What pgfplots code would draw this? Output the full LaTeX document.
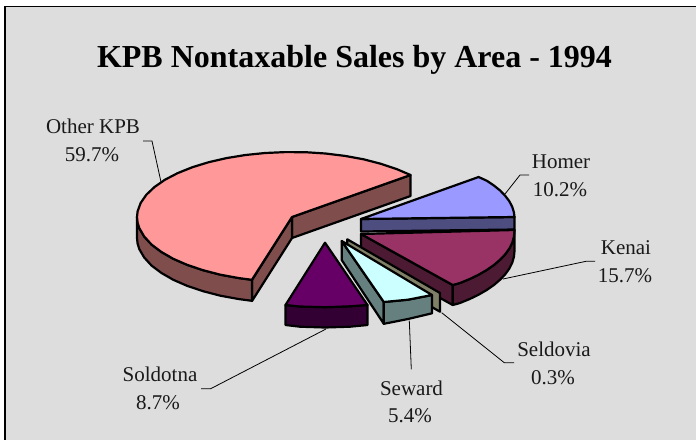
\documentclass[border=0pt]{standalone}
\usepackage{fontspec}
\setmainfont{Liberation Serif}
\usepackage{pgfplots}
\pgfplotsset{compat=1.18}

\definecolor{bg}{HTML}{DDDDDD}
\definecolor{otherT}{HTML}{FF9999}
\definecolor{otherS}{HTML}{804D4D}
\definecolor{homerT}{HTML}{9999FF}
\definecolor{homerS}{HTML}{4D4D80}
\definecolor{kenaiT}{HTML}{993366}
\definecolor{kenaiS}{HTML}{4D1A33}
\definecolor{seldS}{HTML}{808066}
\definecolor{sewT}{HTML}{CCFFFF}
\definecolor{sewS}{HTML}{668080}
\definecolor{soldT}{HTML}{660066}
\definecolor{soldS}{HTML}{330033}

\pgfplotsset{
  slice/.style={fill=#1, draw=black, line width=2.2pt, line join=round},
  leader/.style={draw=black, line width=0.8pt},
}
\tikzset{lab/.style={anchor=base, font=\fontsize{21}{21}\selectfont, inner sep=0pt, text=black!90}}

\begin{document}
\begin{tikzpicture}
\begin{axis}[
  width=696pt, height=440pt, scale only axis,
  xmin=0, xmax=696, ymin=0, ymax=440,
  y dir=reverse,
  hide axis,
  no markers,
]
% page and chart area
\addplot[fill=white, draw=none] coordinates {(0,0) (696,0) (696,440) (0,440)} -- cycle;
\addplot[fill=bg, draw=none] coordinates {(5,6.5) (696,6.5) (696,440) (5,440)} -- cycle;
\addplot[draw=black, line width=1.6pt] coordinates {(5,440) (5,6.5) (696,6.5)};

% leader lines
\addplot[leader] coordinates {(143,141) (152,141) (161,182)};
\addplot[leader] coordinates {(529,175) (520,175) (505,194)};
\addplot[leader] coordinates {(595,261.3) (586,261.3) (503,279)};
\addplot[leader] coordinates {(514,362.7) (504.3,362.7) (441.7,312.7)};
\addplot[leader] coordinates {(411.3,369.3) (409.3,320.7)};
\addplot[leader] coordinates {(201,388.7) (210.7,388.7) (326,329)};

% Other KPB
\addplot[slice=otherS] coordinates {(292,217) (410.5,175) (410.5,196) (292,238)} -- cycle;
\addplot[slice=otherS] coordinates {(292,217) (252,280) (252,301) (292,238)} -- cycle;
\addplot[slice=otherS] coordinates {
  (137,217) (137.6,222.7) (139.4,228.3) (144.2,236.5) (151.5,244.5) (161.3,251.9) (173.3,258.8)
  (187.3,264.9) (203.1,270.2) (220.4,274.7) (239,278.1) (251.9,279.8)
  (251.9,300.8) (239,299.1) (220.4,295.7) (203.1,291.2) (187.3,285.9) (173.3,279.8)
  (161.3,272.9) (151.5,265.5) (144.2,257.5) (139.4,249.3) (137.6,243.7) (137,238)} -- cycle;
\addplot[slice=otherT] coordinates {
  (292,217) (410.5,175) (396.7,169.1) (380.9,163.8) (363.6,159.3) (345,155.9) (325.5,153.5)
  (305.5,152.2) (285.2,152.1) (265.1,153) (245.4,155) (226.5,158.1) (208.7,162.2) (192.4,167.2)
  (177.7,173.1) (165,179.7) (154.5,187) (146.3,194.8) (140.7,202.9) (137.6,211.3) (137,217)
  (137.6,222.7) (139.4,228.3) (144.2,236.5) (151.5,244.5) (161.3,251.9) (173.3,258.8)
  (187.3,264.9) (203.1,270.2) (220.4,274.7) (239,278.1) (251.9,279.8)} -- cycle;

% Homer
\addplot[slice=homerS] coordinates {(361,219) (514.5,217) (514.5,229.5) (361,231.5)} -- cycle;
\addplot[slice=homerT] coordinates {
  (361,219) (478.6,177) (486.7,180.7) (493.9,185.5) (500.1,190.5) (505.2,195.8) (509.3,201.2)
  (512.2,206.7) (513.9,212.3) (514.5,217)} -- cycle;

% Kenai
\addplot[slice=kenaiS] coordinates {(361,234) (452.7,285) (452.7,305) (361,254)} -- cycle;
\addplot[slice=kenaiS] coordinates {
  (514.5,230) (513.9,236.9) (512.2,242.8) (509.3,248.6) (505.2,254.3) (500.1,259.7) (493.9,265)
  (486.7,270) (478.6,274.7) (469.5,279.1) (459.7,283.1) (452.7,285)
  (452.7,305) (459.7,303.1) (469.5,299.1) (478.6,294.7) (486.7,290) (493.9,285) (500.1,279.7)
  (505.2,274.3) (509.3,268.6) (512.2,262.8) (513.9,256.9) (514.5,251)} -- cycle;
\addplot[slice=kenaiT] coordinates {
  (361,234) (514.5,230) (513.9,236.9) (512.2,242.8) (509.3,248.6) (505.2,254.3) (500.1,259.7)
  (493.9,265) (486.7,270) (478.6,274.7) (469.5,279.1) (459.7,283.1) (452.7,285)} -- cycle;

% Seldovia
\addplot[slice=seldS] coordinates {(347.3,239.3) (440,293) (440,311.7) (347.3,259)} -- cycle;

% Seward
\addplot[slice=sewS] coordinates {(341.7,241) (383.8,302) (383.8,323.8) (341.7,260)} -- cycle;
\addplot[slice=sewS] coordinates {
  (383.8,302) (408,299.7) (432,295) (432,313.3) (408,319) (383.8,323.8)} -- cycle;
\addplot[slice=sewT] coordinates {(341.7,241) (432,295) (408,299.7) (383.8,302)} -- cycle;

% Soldotna
\addplot[slice=soldS] coordinates {
  (285.5,305) (300,306.5) (325,307.2) (350,306.3) (367.5,305)
  (367.5,325) (350,326.7) (325,327.5) (300,326.7) (285.5,325)} -- cycle;
\addplot[slice=soldT] coordinates {
  (325,242.7) (367.5,305) (350,306.3) (325,307.2) (300,306.5) (285.5,305)} -- cycle;

% text
\node[anchor=base, font=\fontsize{32}{32}\selectfont\bfseries, inner sep=0pt] at (axis cs:354.5,67) {KPB Nontaxable Sales by Area - 1994};
\node[lab] at (axis cs:93,133) {Other KPB};
\node[lab] at (axis cs:92,161) {59.7\%};
\node[lab] at (axis cs:561,168) {Homer};
\node[lab] at (axis cs:560,196) {10.2\%};
\node[lab] at (axis cs:626,254) {Kenai};
\node[lab] at (axis cs:625,282) {15.7\%};
\node[lab] at (axis cs:554,356) {Seldovia};
\node[lab] at (axis cs:553,384) {0.3\%};
\node[lab] at (axis cs:411.5,395) {Seward};
\node[lab] at (axis cs:410,422) {5.4\%};
\node[lab] at (axis cs:160,381) {Soldotna};
\node[lab] at (axis cs:158,409) {8.7\%};
\end{axis}
\end{tikzpicture}
\end{document}
